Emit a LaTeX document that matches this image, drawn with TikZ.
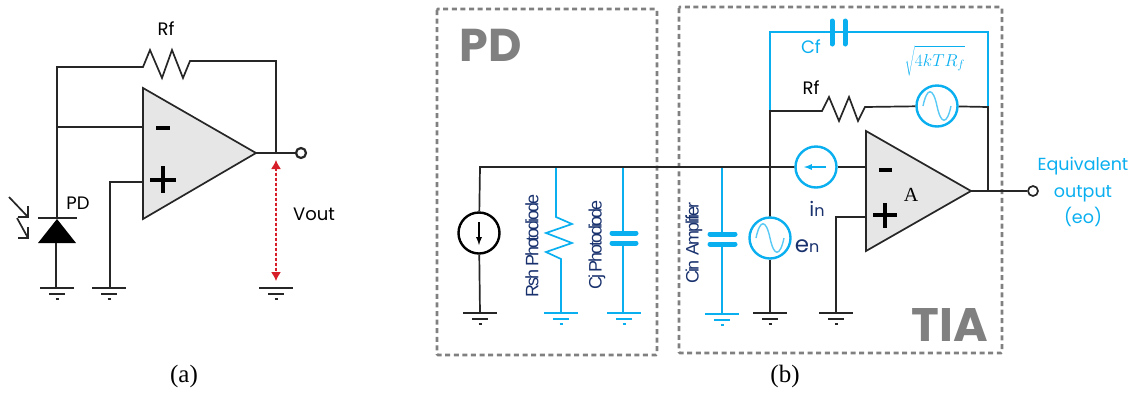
\documentclass[tikz,border=0pt]{standalone}
\usepackage{fontspec}
\usetikzlibrary{arrows.meta}
\setmainfont{Poppins}
\newfontfamily\serifont{Liberation Serif}
\newfontfamily\tightfont[LetterSpace=-12]{Liberation Sans}
\definecolor{wireblue}{RGB}{10,175,240}
\definecolor{labelnavy}{RGB}{25,50,110}
\definecolor{boxgray}{RGB}{128,128,128}
\definecolor{ampgray}{RGB}{230,230,230}
\definecolor{voutred}{RGB}{215,30,40}
\begin{document}
\begin{tikzpicture}[x=1pt,y=-1pt,
  wire/.style={draw=black!85,line width=1.7pt,line join=miter},
  bluewire/.style={draw=wireblue,line width=1.7pt,line join=miter},
  plate/.style={draw=wireblue,line width=5pt,line cap=round},
  amp/.style={draw=black!85,fill=ampgray,line width=1.7pt,line join=miter},
  source/.style={circle,draw=#1,fill=white,line width=2.4pt,minimum size=41,inner sep=0pt},
  port/.style={circle,draw=black!85,fill=white,line width=#1,minimum size=10,inner sep=0pt},
  region/.style={draw=boxgray,line width=2.6pt,dash pattern=on 5pt off 3.6pt,rounded corners=1pt},
  txt/.style={inner sep=0pt,font=\fontsize{#1}{#1}\selectfont},
  sign/.style={draw=black,line width=4pt},
  rotlabel/.style={rotate=90,inner sep=0pt,text=labelnavy,font=\fontsize{18}{18}\tightfont}]
  \useasboundingbox (0,0) rectangle (1133,392);

  % (a)
  \filldraw[amp] (143,88) coordinate (ainv) -- (256,153) coordinate (aout) -- (143,219) -- cycle;
  \draw[sign] (156,128) -- (170,128);
  \draw[sign] (150,180) -- (176,180) (163,166) -- (163,193);
  \coordinate (atl) at (57,67);
  \coordinate (ain) at (143,127);
  \coordinate (ajoin) at (57,127);
  \coordinate (apos) at (143,182);
  \coordinate (acat) at (57,218);
  \coordinate (afb) at (276,153);
  \node[port=2.2pt] (aport) at (301,153) {};
  \draw[wire] (acat) -- (atl) -- (143,67) -- (150,50) -- (162,78) -- (172,50) -- (183,78) -- (190,61) -- (276,61) -- (afb);
  \draw[wire] (ajoin) -- (ain);
  \draw[wire] (aout) -- (aport);
  \draw[wire] (apos) -- (110,182) -- (110,288);
  \draw[wire] (38,218) -- (77,218);
  \fill[black] (57,219) -- (76,243) -- (38,243) -- cycle;
  \draw[wire] (56,243) -- (56,288);
  \draw[wire] (9,197) -- (28,217) (28,206) -- (28,217) -- (18,217);
  \draw[wire] (17,218) -- (28,238) (28,227) -- (28,238) -- (18,238);
  \coordinate (atop) at (276,160);
  \coordinate (abot) at (276,281);
  \draw[draw=voutred,fill=voutred,line width=1.3pt,densely dashed,{Latex[length=9pt,width=10pt]}-{Latex[length=9pt,width=10pt]}] (atop) -- (abot);
  \node[txt=18] (arf) at (166,29) {Rf};
  \node[txt=18] (apd) at (78,203) {PD};
  \node[txt=18] (avout) at (314,214) {Vout};
  \node[font=\fontsize{25}{25}\serifont,inner sep=0pt] (acap) at (184,376) {(a)};

  % (b)
  \draw[region] (437,9) rectangle (657,355);
  \draw[region] (679,7) rectangle (1002,353);
  \node[txt=46,text=boxgray,font=\fontsize{46}{46}\selectfont\bfseries] (pdname) at (491,45) {PD};
  \node[txt=46,text=boxgray,font=\fontsize{47}{47}\selectfont\bfseries] (tianame) at (950,325) {TIA};

  \filldraw[amp] (866,131) -- (971,191) coordinate (bout) -- (866,251) -- cycle;
  \draw[sign] (879,170) -- (892,170);
  \draw[sign] (873,215) -- (897,215) (885,203) -- (885,228);
  \node[font=\fontsize{20}{20}\serifont,inner sep=0pt] (bgain) at (911,195) {A};

  \node[source=black] (isrc) at (479,233) {};
  \node[source=wireblue] (inoise) at (816,167) {};
  \node[source=wireblue] (enoise) at (770,238) {};
  \node[source=wireblue] (rnoise) at (937,106) {};
  \node[port=1.7pt] (bport) at (1033,191) {};
  \coordinate (bmain) at (480,167);
  \coordinate (binv) at (866,167);
  \coordinate (bfb) at (770,111);
  \coordinate (brail) at (988,107);

  \draw[bluewire] (bfb) -- (770,32) -- (838,32) (838,32) -- (988,32) -- (brail);
  \draw[plate] (832,21) -- (832,44);
  \draw[plate] (845,21) -- (845,44);
  \draw[bluewire] (556,167) -- (556,217) -- (572,224) -- (546,233) -- (572,243) -- (546,252) -- (561,259) -- (561,313);
  \draw[bluewire] (623,167) -- (623,233) (623,243) -- (623,313);
  \draw[plate] (612,233) -- (636,233) (612,243) -- (636,243);
  \draw[bluewire] (722,167) -- (722,234) (722,244) -- (722,314);
  \draw[plate] (710,234) -- (735,234) (710,244) -- (735,244);

  \draw[wire] (isrc) -- (bmain) -- (inoise);
  \draw[wire] (inoise) -- (binv);
  \draw[wire] (isrc) -- (480,313);
  \draw[wire] (enoise) -- (770,313);
  \draw[wire] (enoise) -- (bfb) -- (822,111) -- (829,97) -- (839,121) -- (849,97) -- (858,121) -- (865,107) -- (rnoise);
  \draw[wire] (rnoise) -- (brail) -- (988,191);
  \draw[wire] (866,217) -- (836,217) -- (836,313);
  \draw[wire] (bout) -- (bport);

  % grounds
  \foreach \gx/\gy/\gc in {57/288/black!85,109/288/black!85,276/288/black!85,480/313/black!85,561/313/wireblue,624/313/wireblue,722/314/wireblue,770/313/black!85,836/313/black!85}
    \draw[\gc,line width=1.6pt] (\gx-17,\gy) -- (\gx+17,\gy) (\gx-8,\gy+6) -- (\gx+8,\gy+6) (\gx-1.5,\gy+11) -- (\gx+1.5,\gy+11);

  % source marks
  \draw[black,line width=1.7pt,-latex] (isrc.center) ++(0,-11) -- ++(0,23);
  \draw[wireblue,line width=1.7pt,-latex] (inoise.center) ++(10,0) -- ++(-22,0);
  \foreach \n in {enoise,rnoise}
    \draw[cyan!65,line width=1.4pt] (\n.center) ++(-14,0) .. controls +(4,-19) and +(-4,-19) .. ++(14,0) .. controls +(4,19) and +(-4,19) .. ++(14,0);

  \node[rotlabel] (rshlabel) at (532,246) {Rsh Photodiode};
  \node[rotlabel] (cjlabel) at (597,245) {Cj Photodiode};
  \node[rotlabel] (cinlabel) at (694,243) {Cin~~Amplifier};
  \node[txt=18,text=wireblue] (cflabel) at (811,47) {Cf};
  \node[txt=18] (rflabel) at (811,88) {Rf};
  \node[txt=18,text=wireblue] (sqrtlabel) at (935,61) {$\sqrt{\rule[-9pt]{0pt}{27pt}4kTR_f}$};
  \node[txt=16,text=labelnavy] (inlabel) at (817,209) {\fontsize{20}{20}\selectfont i\fontsize{16}{16}\selectfont n};
  \node[txt=16,text=labelnavy] (enlabel) at (807,246) {\fontsize{23}{23}\selectfont e\fontsize{16}{16}\selectfont n};
  \node[text=wireblue,align=center,inner sep=0pt,font=\fontsize{17.5}{26.5}\selectfont] (eolabel) at (1083,192) {Equivalent\\output\\(eo)};
  \node[font=\fontsize{25}{25}\serifont,inner sep=0pt] (bcap) at (785,376) {(b)};
\end{tikzpicture}
\end{document}
